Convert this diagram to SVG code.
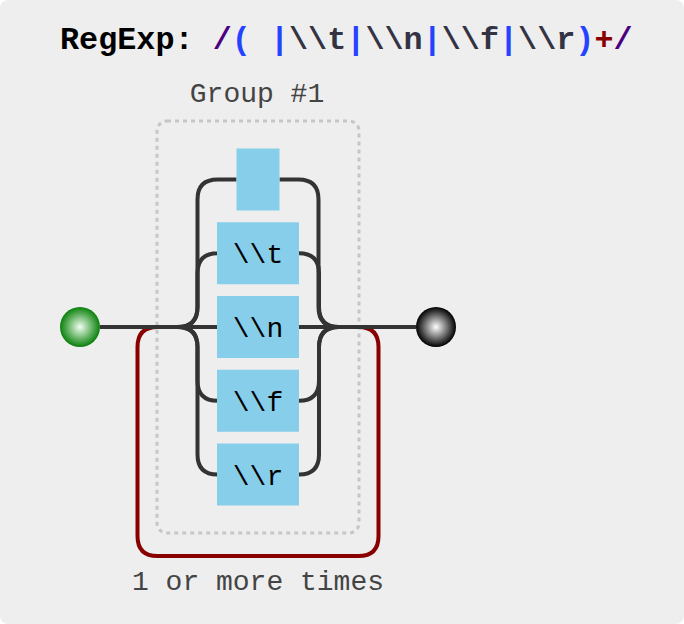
<svg xmlns="http://www.w3.org/2000/svg" width="684" height="624" viewBox="0 0 684 624">
<defs>
<radialGradient id="gStart" cx="0.5" cy="0.5" r="0.5"><stop offset="0" stop-color="#f0fff0"/><stop offset="1" stop-color="#0a800a"/></radialGradient>
<radialGradient id="gEnd" cx="0.5" cy="0.5" r="0.5"><stop offset="0" stop-color="#fff"/><stop offset="1" stop-color="#000"/></radialGradient>
<style>
.bg{fill:#eee}
.line{fill:none;stroke:#333;stroke-width:4}
.repeat{fill:none;stroke:#800;stroke-width:4}
.groupbox{fill:none;stroke:#c6c6c6;stroke-width:3;stroke-dasharray:4 4}
.node rect{fill:#87ceeb}
.node text{font-family:"Liberation Mono","Courier New",monospace;font-size:28px;fill:#000;text-anchor:middle}
.label{font-family:"Liberation Mono","Courier New",monospace;font-size:28px;fill:#444;text-anchor:middle}
.title{font-family:"Liberation Mono","Courier New",monospace;font-size:31.8px;font-weight:bold;fill:#000}
</style>
</defs>
<rect class="bg" x="0" y="0" width="684" height="624" rx="8"/>
<text class="title" x="60" y="49">RegExp: <tspan fill="#4b0082">/</tspan><tspan fill="#2442ff">(</tspan> <tspan fill="#2442ff">|</tspan><tspan fill="#334">\\t</tspan><tspan fill="#2442ff">|</tspan><tspan fill="#334">\\n</tspan><tspan fill="#2442ff">|</tspan><tspan fill="#334">\\f</tspan><tspan fill="#2442ff">|</tspan><tspan fill="#334">\\r</tspan><tspan fill="#2442ff">)</tspan><tspan fill="#800">+</tspan><tspan fill="#4b0082">/</tspan></text>
<g id="group1">
<rect class="groupbox" x="157" y="121" width="202" height="412" rx="10"/>
<text class="label" x="257" y="101.5">Group #1</text>
</g>
<g id="connectors">
<path class="repeat" d="M157.5,327 q-20,0 -20,20 V536 q0,20 20,20 H358.5 q20,0 20,-20 V347 q0,-20 -20,-20"/>
<path class="line" d="M100,327 H217 M299,327 H416"/>
<path class="line" d="M177.5,327 q20,0 20,-20 V199.5 q0,-20 20,-20 H236.5 M279.5,179.5 H298.5 q20,0 20,20 V307 q0,20 20,20"/>
<path class="line" d="M177.5,327 q20,0 20,-20 V273.25 q0,-20 20,-20 H217 M299,253.25 q20,0 20,20 V307 q0,20 20,20"/>
<path class="line" d="M177.5,327 q20,0 20,20 V380.75 q0,20 20,20 H217 M299,400.75 q20,0 20,-20 V347 q0,-20 20,-20"/>
<path class="line" d="M177.5,327 q20,0 20,20 V454.5 q0,20 20,20 H217 M299,474.5 q20,0 20,-20 V347 q0,-20 20,-20"/>
</g>
<g id="repeat-label"><text class="label" x="258" y="590">1 or more times</text></g>
<g id="start"><circle cx="80" cy="327" r="20" fill="url(#gStart)"/></g>
<g id="end"><circle cx="436" cy="327" r="20" fill="url(#gEnd)"/></g>
<g id="n-space" class="node"><rect x="236.5" y="148.5" width="43" height="62"/></g>
<g id="n-t" class="node"><rect x="217" y="222.25" width="82" height="62"/><text x="258" y="263.25">\\t</text></g>
<g id="n-n" class="node"><rect x="217" y="296" width="82" height="62"/><text x="258" y="337">\\n</text></g>
<g id="n-f" class="node"><rect x="217" y="369.75" width="82" height="62"/><text x="258" y="410.75">\\f</text></g>
<g id="n-r" class="node"><rect x="217" y="443.5" width="82" height="62"/><text x="258" y="484.5">\\r</text></g>
</svg>
